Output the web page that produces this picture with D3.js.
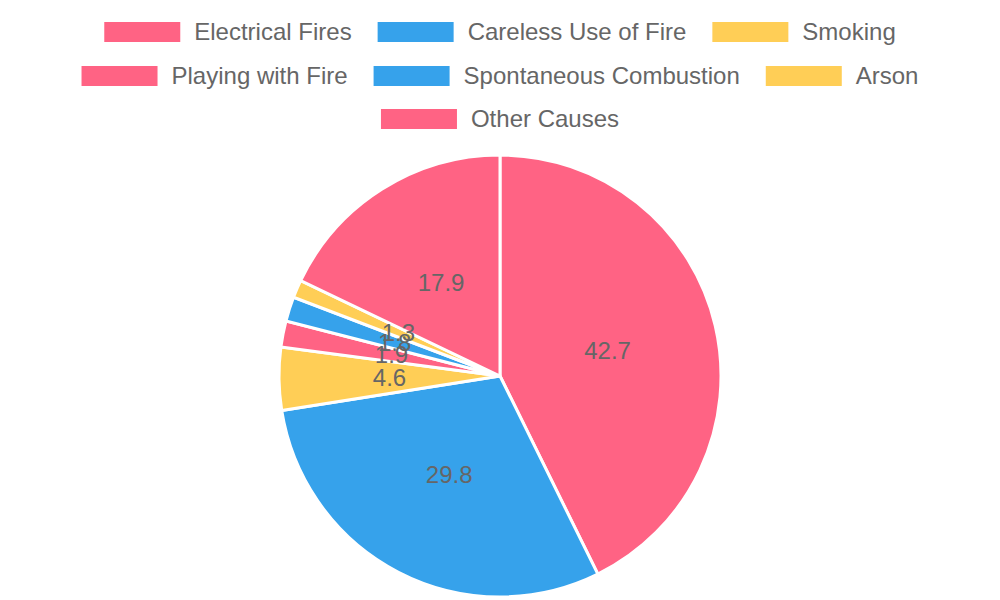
<!DOCTYPE html>
<html>
<head>
<meta charset="utf-8">
<script src="https://cdn.jsdelivr.net/npm/d3@7"></script>
<style>
  body { margin: 0; background: #fff; }
  svg { display: block; font-family: "Liberation Sans", Arial, sans-serif; }
</style>
</head>
<body>
<div id="chart"></div>
<script>
// Data
const causes = ['Electrical Fires', 'Careless Use of Fire', 'Smoking', 'Playing with Fire',
  'Spontaneous Combustion', 'Arson', 'Other Causes']
const shares = [42.7, 29.8, 4.6, 1.9, 1.8, 1.3, 17.9]
const palette = ['#FF6384', '#36A2EB', '#FFCE56']

const width = 1000, height = 600
const radius = 221
const cx = 500, cy = 376
const fontSize = 24

const svg = d3.select('#chart')
  .append('svg')
  .attr('width', width)
  .attr('height', height)

const color = d3.scaleOrdinal()
  .domain(causes)
  .range(causes.map((d, i) => palette[i % palette.length]))

// Legend rows
const rows = [[0, 1, 2], [3, 4, 5], [6]]
const rowY = [32, 76, 119]
const boxW = 76, boxH = 20, boxGap = 14, itemGap = 26

const legend = svg.append('g')
const measure = svg.append('text').attr('font-size', fontSize).attr('opacity', 0)
const textW = causes.map(c => {
  measure.text(c)
  return measure.node().getComputedTextLength()
})
measure.remove()

rows.forEach((row, r) => {
  const widths = row.map(i => boxW + boxGap + textW[i])
  const total = d3.sum(widths) + itemGap * (row.length - 1)
  let x = width / 2 - total / 2
  row.forEach((i, k) => {
    legend.append('rect')
      .attr('x', x)
      .attr('y', rowY[r] - boxH / 2)
      .attr('width', boxW)
      .attr('height', boxH)
      .attr('fill', color(causes[i]))
    legend.append('text')
      .attr('x', x + boxW + boxGap)
      .attr('y', rowY[r])
      .attr('dy', '0.35em')
      .attr('font-size', fontSize)
      .attr('fill', '#666')
      .text(causes[i])
    x += widths[k] + itemGap
  })
})

// Pie
const pie = d3.pie().sort(null).value(d => d)
const arcs = pie(shares)
const arc = d3.arc().innerRadius(0).outerRadius(radius)
const labelArc = d3.arc().innerRadius(radius / 2).outerRadius(radius / 2)

const g = svg.append('g').attr('transform', `translate(${cx},${cy})`)

g.selectAll('path')
  .data(arcs)
  .join('path')
  .attr('d', arc)
  .attr('fill', (d, i) => color(causes[i]))
  .attr('stroke', '#fff')
  .attr('stroke-width', 3)

g.selectAll('text')
  .data(arcs)
  .join('text')
  .attr('transform', d => `translate(${labelArc.centroid(d)})`)
  .attr('text-anchor', 'middle')
  .attr('dy', '0.35em')
  .attr('font-size', fontSize)
  .attr('fill', '#666')
  .text(d => d.data)
</script>
</body>
</html>
